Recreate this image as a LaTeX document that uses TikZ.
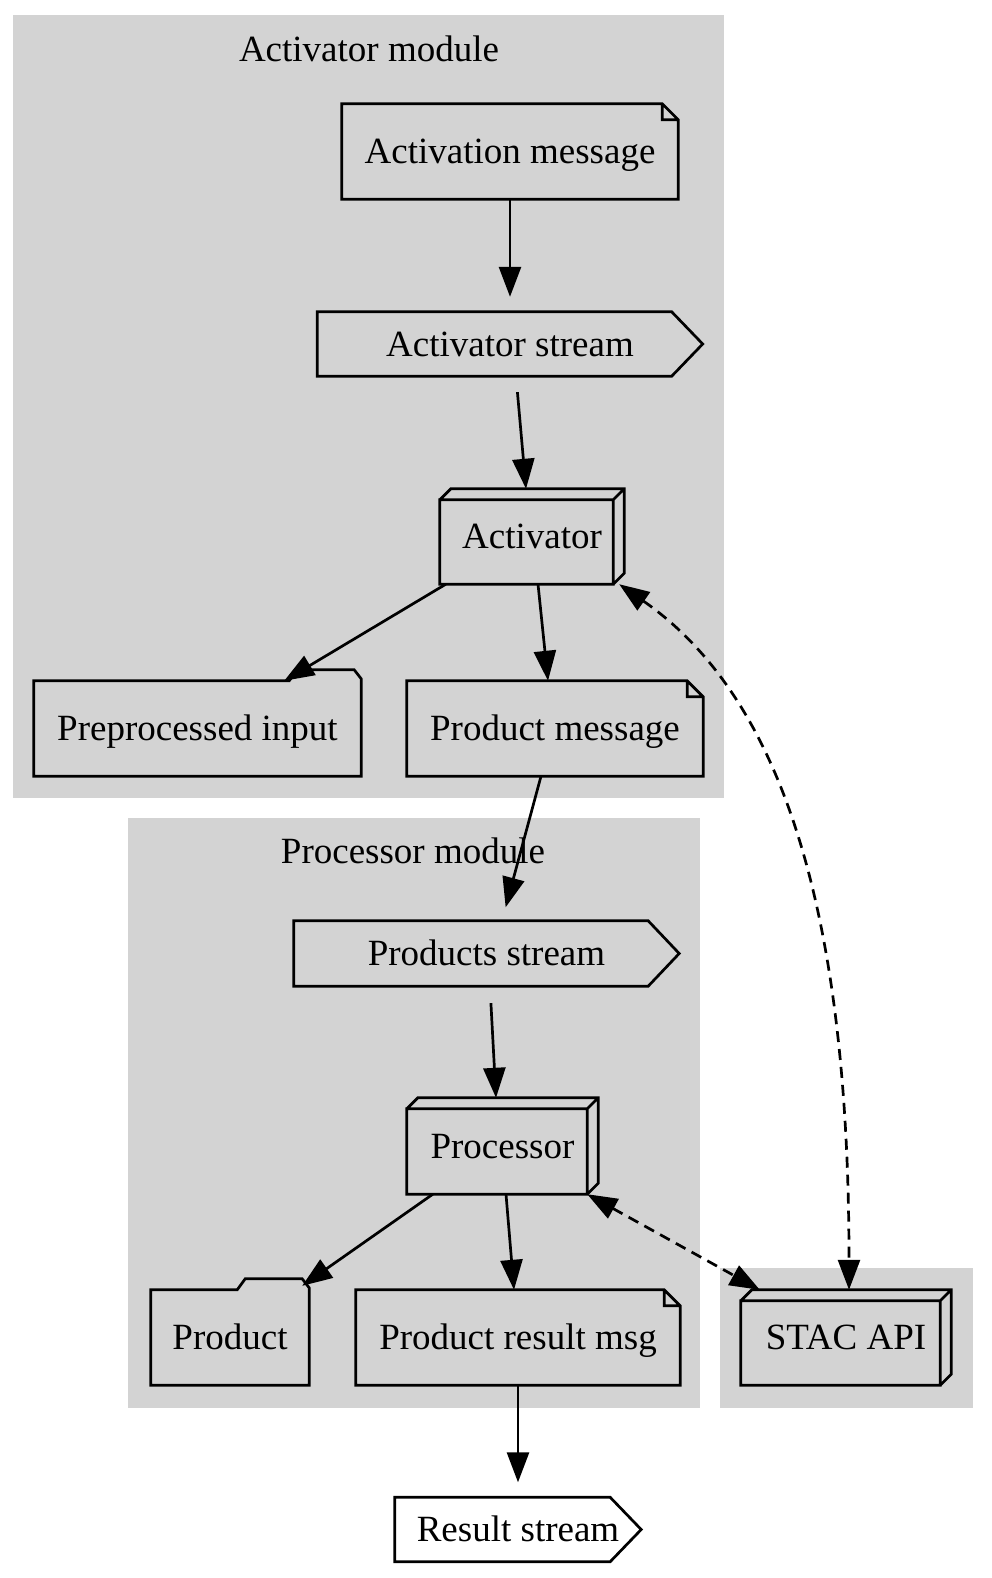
\documentclass[tikz,border=0pt]{standalone}
\usepackage{fontspec}
\setmainfont{Liberation Serif}
\usepackage{tikz}
\usetikzlibrary{arrows.meta}

\definecolor{clustergray}{HTML}{D3D3D3}

\begin{document}
\begin{tikzpicture}[x=1pt, y=-1pt, font=\fontsize{37}{44}\selectfont, text height=24.5pt, text depth=0pt]
        \tikzstyle{box} = [inner sep=0pt, text centered]
        \tikzstyle{outline} = [line width=2.7pt, line join=miter]
        \tikzstyle{arrow} = [line width=2.7pt, -{Triangle[length=30pt, width=22pt]}]
        \tikzstyle{twoway} = [line width=2.7pt, dash pattern=on 11pt off 7pt, {Triangle[length=30pt, width=22pt]}-{Triangle[length=30pt, width=22pt]}]

        \useasboundingbox (0,0) rectangle (992,1578);

        % Clusters
        \fill [clustergray] (13,15) rectangle (724,798);
        \fill [clustergray] (128,818) rectangle (700,1408);
        \fill [clustergray] (720,1268) rectangle (973,1408);
        \node (actlabel) at (369,49) {Activator module};
        \node (proclabel) at (413,851) {Processor module};

        % Nodes
        \node (amsg) [box, minimum width=336pt, minimum height=95pt] at (510,151.5) {Activation message};
        \node (astream) [box, minimum width=385pt, minimum height=64pt] at (510,344) {Activator stream};
        \node (activator) [box, minimum width=184pt, minimum height=95pt] at (532,536.5) {Activator};
        \node (prep) [box, minimum width=327pt, minimum height=95pt] at (197.5,728.5) {Preprocessed input};
        \node (pmsg) [box, minimum width=296pt, minimum height=95pt] at (555,728.5) {Product message};

        \node (pstream) [box, minimum width=385pt, minimum height=65pt] at (486.5,953.5) {Products stream};
        \node (processor) [box, minimum width=191pt, minimum height=96pt] at (502.5,1146) {Processor};
        \node (product) [box, minimum width=158pt, minimum height=95pt] at (230,1337.5) {Product};
        \node (rmsg) [box, minimum width=324pt, minimum height=95pt] at (518,1337.5) {Product result msg};

        \node (stac) [box, minimum width=210pt, minimum height=95pt] at (846,1337.5) {STAC API};

        \node (rstream) [box, minimum width=246pt, minimum height=64pt] at (518,1529.5) {Result stream};

        % Outlines: notes
        \foreach \n in {amsg, pmsg, rmsg} {
            \draw [outline] (\n.north west) -- ([xshift=-16pt]\n.north east) -- ([yshift=-16pt]\n.north east) -- (\n.south east) -- (\n.south west) -- cycle
                ([xshift=-16pt]\n.north east) |- ([yshift=-16pt]\n.north east);
        }
        % Outlines: streams
        \foreach \n in {astream, pstream, rstream} {
            \draw [outline] (\n.north west) -- ([xshift=-31pt]\n.north east) -- (\n.east) -- ([xshift=-31pt]\n.south east) -- (\n.south west) -- cycle;
        }
        % Outlines: 3d boxes
        \foreach \n in {activator, processor, stac} {
            \draw [outline] ([yshift=-11pt]\n.north west) rectangle ([xshift=-11pt]\n.south east)
                ([yshift=-11pt]\n.north west) -- ([xshift=11pt]\n.north west) -- (\n.north east) -- ([yshift=11pt]\n.south east) -- ([xshift=-11pt]\n.south east)
                ([xshift=-11pt,yshift=-11pt]\n.north east) -- (\n.north east);
        }
        % Outlines: folders
        \foreach \n in {prep, product} {
            \draw [outline] (\n.south west) -- (\n.north west) -- ([xshift=-72pt]\n.north east) -- ([xshift=-64pt,yshift=11pt]\n.north east) -- ([xshift=-7pt,yshift=11pt]\n.north east) -- ([yshift=2pt]\n.north east) -- (\n.south east) -- cycle;
        }

        % Arrows
        \draw [arrow, shorten >=15pt] (amsg) -- (astream);
        \draw [arrow, shorten <=16pt] ([xshift=6pt]astream.south) -- ([xshift=-6pt]activator.north);
        \draw [arrow] ([xshift=6pt]activator.south west) -- ([xshift=-77pt]prep.north east);
        \draw [arrow] ([xshift=6pt]activator.south) -- ([xshift=-7pt]pmsg.north);
        \draw [twoway] ([xshift=-5pt]activator.south east) .. controls (800,710) and (849,960) .. ([xshift=3pt]stac.north);

        \draw [arrow, shorten >=14pt] ([xshift=-14pt]pmsg.south) -- ([xshift=15.5pt]pstream.north);
        \draw [arrow, shorten <=17pt] ([xshift=3.5pt]pstream.south) -- ([xshift=-6.5pt]processor.north);
        \draw [arrow] ([xshift=26pt]processor.south west) -- ([xshift=-7pt,yshift=4pt]product.north east);
        \draw [arrow] ([xshift=3.5pt]processor.south) -- ([xshift=-4pt]rmsg.north);
        \draw [twoway] ([xshift=-11pt]processor.south east) -- ([xshift=19pt]stac.north west);

        \draw [arrow, shorten >=15pt] (rmsg) -- (rstream);
    \end{tikzpicture}
\end{document}
